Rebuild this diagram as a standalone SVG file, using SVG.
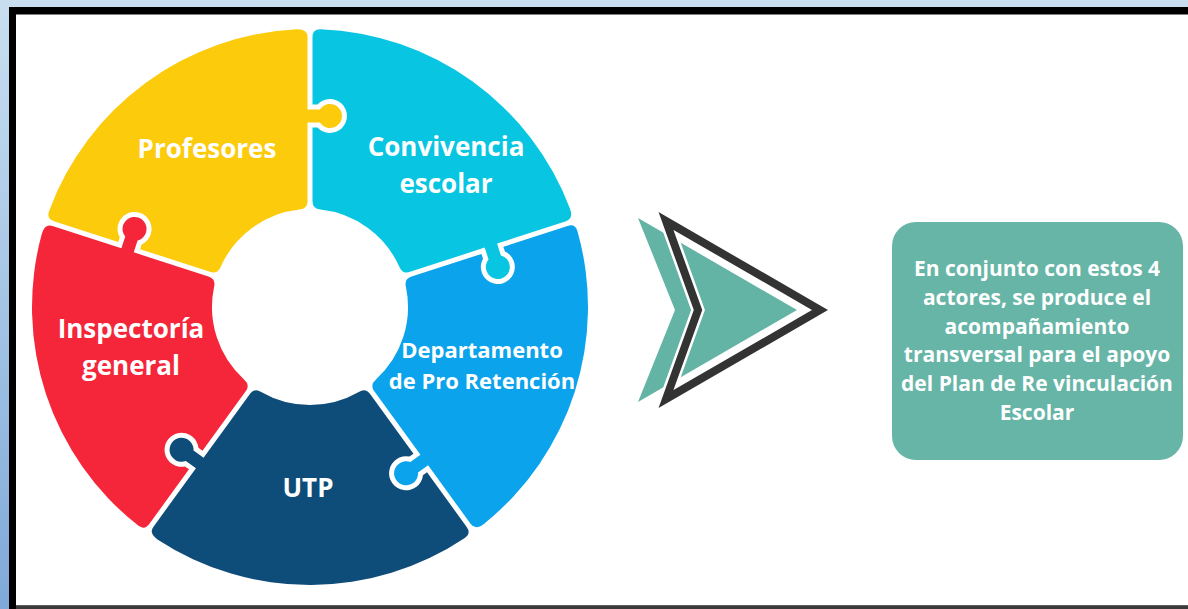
<svg xmlns="http://www.w3.org/2000/svg" xmlns:xlink="http://www.w3.org/1999/xlink" width="1188" height="609" viewBox="0 0 1188 609">
  <defs>
    <linearGradient id="bg" x1="0" y1="0" x2="0" y2="1">
      <stop offset="0" stop-color="#C9DFF0"/>
      <stop offset="1" stop-color="#7FA9D9"/>
    </linearGradient>
    <path id="piece" d="M 2.5 -106 L 2.5 -179.5 L 7.48 -179.5 A 17 17 0 1 0 7.48 -202.5 L 2.5 -202.5 L 2.5 -270 Q 2.5 -278 10.5 -277.8 A 278 278 0 0 1 260.02 -98.35 Q 263.62 -88.28 256.01 -85.81 L 187.06 -63.41 L 190.90 -51.61 A 12 12 0 1 1 178.53 -47.59 L 174.70 -59.39 L 100.04 -35.13 Q 92.43 -32.66 89.46 -40.02 A 98 98 0 0 0 10.48 -97.44 Q 2.5 -97.97 2.5 -106 Z"/>
    <style>
      .lbl { font-family: "Open Sans", "Liberation Sans", sans-serif; font-weight: 700; fill: #FFFFFF; text-anchor: middle; }
      .big { font-size: 26px; }
      .mid { font-size: 22px; }
      .box { font-size: 21px; }
    </style>
  </defs>

  <!-- frame -->
  <rect x="0" y="0" width="1188" height="609" fill="url(#bg)"/>
  <rect x="9" y="7" width="1179" height="602" fill="#000000"/>
  <rect x="16" y="14.5" width="1172" height="591" fill="#FFFFFF"/>
  <rect x="16" y="605.5" width="1172" height="3.5" fill="#3A3A3A"/>

  <g id="piece-profesores">
    <use href="#piece" xlink:href="#piece" transform="translate(310 307) rotate(288)" fill="#FBCB0C"/>
    <text class="lbl big" x="207" y="158">Profesores</text>
  </g>

  <g id="piece-convivencia">
    <use href="#piece" xlink:href="#piece" transform="translate(310 307)" fill="#08C6E2"/>
    <text class="lbl big" x="446" y="156">Convivencia</text>
    <text class="lbl big" x="446" y="193">escolar</text>
  </g>

  <g id="piece-departamento">
    <use href="#piece" xlink:href="#piece" transform="translate(310 307) rotate(72)" fill="#0BA3EC"/>
    <text class="lbl mid" x="482" y="358">Departamento</text>
    <text class="lbl mid" x="482" y="389">de Pro Retención</text>
  </g>

  <g id="piece-utp">
    <use href="#piece" xlink:href="#piece" transform="translate(310 307) rotate(144)" fill="#0E4C7A"/>
    <text class="lbl big" x="308" y="497">UTP</text>
  </g>

  <g id="piece-inspectoria">
    <use href="#piece" xlink:href="#piece" transform="translate(310 307) rotate(216)" fill="#F5253A"/>
    <text class="lbl big" x="131" y="338">Inspectoría</text>
    <text class="lbl big" x="131" y="375">general</text>
  </g>

  <g id="connectors">
    <polygon points="638,218 797,310 638,402 675,310" fill="#64B4A6"/>
    <polygon points="666,221 820,310 666,399 698,310" fill="none" stroke="#FFFFFF" stroke-width="13" stroke-linejoin="miter" stroke-miterlimit="4"/>
    <polygon points="666,221 820,310 666,399 698,310" fill="none" stroke="#333333" stroke-width="8" stroke-linejoin="miter" stroke-miterlimit="4"/>
  </g>

  <g id="summary-box">
    <rect x="892" y="222" width="291" height="238" rx="24" ry="24" fill="#66B5A7"/>
    <text class="lbl box" x="1037" y="276">En conjunto con estos 4</text>
    <text class="lbl box" x="1037" y="305">actores, se produce el</text>
    <text class="lbl box" x="1037" y="334">acompañamiento</text>
    <text class="lbl box" x="1037" y="362">transversal para el apoyo</text>
    <text class="lbl box" x="1037" y="391">del Plan de Re vinculación</text>
    <text class="lbl box" x="1037" y="420">Escolar</text>
  </g>
</svg>
